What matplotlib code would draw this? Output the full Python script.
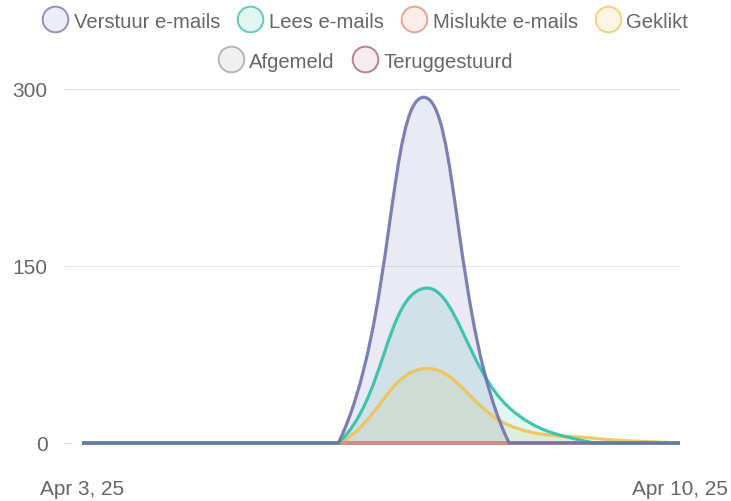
import matplotlib
matplotlib.use("Agg")
import matplotlib.pyplot as plt
import numpy as np
from matplotlib.path import Path
from matplotlib.patches import PathPatch
from matplotlib.lines import Line2D

plt.rcParams['font.family'] = ['Liberation Sans', 'DejaVu Sans']

dates = ["Apr 3, 25", "Apr 4, 25", "Apr 5, 25", "Apr 6, 25", "Apr 7, 25", "Apr 8, 25", "Apr 9, 25", "Apr 10, 25"]
series_names = ["Verstuur e-mails", "Lees e-mails", "Mislukte e-mails", "Geklikt", "Afgemeld", "Teruggestuurd"]
verstuur = [0, 0, 0, 0, 293, 0, 0, 0]
lees = [0, 0, 0, 0, 131, 30, 0, 0]
mislukte = [0, 0, 0, 0, 0, 0, 0, 0]
geklikt = [0, 0, 0, 0, 63, 15, 4, 0]
afgemeld = [0, 0, 0, 0, 0, 0, 0, 0]
teruggestuurd = [0, 0, 0, 0, 0, 0, 0, 0]
xtick_labels = ["Apr 3, 25", "Apr 10, 25"]
yticks = [0, 150, 300]

line_colors = ["#6a70ab", "#2bbfa4", "#e08a78", "#f3c150", "#a0a0a0", "#a05c72"]
fill_colors = ["#e6e8f4", "#d8f4ef", "#fde9e4", "#fdf3dc", "#ececec", "#f3e6e9"]
all_series = [verstuur, lees, mislukte, geklikt, afgemeld, teruggestuurd]

W, H = 731, 502
fig = plt.figure(figsize=(W / 100, H / 100), dpi=100)
L, R, T, B = 72, 680, 90, 444
ax = fig.add_axes([L / W, 1 - B / H, (R - L) / W, (B - T) / H])
x = np.arange(len(dates))
ax.set_xlim(-10 / 85.43, len(dates) - 1)
ax.set_ylim(0, 300)

for s in ax.spines.values():
    s.set_visible(False)
ax.set_yticks(yticks)
ax.set_yticklabels([str(v) for v in yticks])
ax.tick_params(axis='y', length=6.5, width=0.8, color='#e0e0e0', pad=11,
               labelsize=15, labelcolor='#666666')
ax.grid(axis='y', color='#e6e6e6', linewidth=0.8)
ax.set_axisbelow(True)
ax.set_xticks([0, len(dates) - 1])
ax.set_xticklabels(xtick_labels)
ax.tick_params(axis='x', length=0, pad=26, labelsize=15, labelcolor='#666666')

fig.canvas.draw()
tr = ax.transData
inv = tr.inverted()
bbox = ax.bbox


def spline_path(ys, tension=0.4):
    pts = tr.transform(np.column_stack([x, ys]).astype(float))
    n = len(pts)
    cprev = np.zeros_like(pts)
    cnext = np.zeros_like(pts)
    for i in range(n):
        prev = pts[i - 1] if i > 0 else pts[i]
        cur = pts[i]
        nxt = pts[i + 1] if i < n - 1 else pts[i]
        d01 = np.hypot(*(cur - prev))
        d12 = np.hypot(*(nxt - cur))
        tot = d01 + d12
        s01 = d01 / tot if tot > 0 else 0
        s12 = d12 / tot if tot > 0 else 0
        cprev[i] = cur - tension * s01 * (nxt - prev)
        cnext[i] = cur + tension * s12 * (nxt - prev)
    for arr in (cprev, cnext):
        arr[:, 0] = np.clip(arr[:, 0], bbox.x0, bbox.x1)
        arr[:, 1] = np.clip(arr[:, 1], bbox.y0, bbox.y1)
    verts = [pts[0]]
    codes = [Path.MOVETO]
    for i in range(n - 1):
        verts += [cnext[i], cprev[i + 1], pts[i + 1]]
        codes += [Path.CURVE4] * 3
    verts = inv.transform(np.array(verts))
    return verts, codes


for k in reversed(range(len(all_series))):
    ys = all_series[k]
    verts, codes = spline_path(ys)
    fverts = np.vstack([verts, [[x[-1], 0], [x[0], 0], [x[0], 0]]])
    fcodes = codes + [Path.LINETO, Path.LINETO, Path.CLOSEPOLY]
    ax.add_patch(PathPatch(Path(fverts, fcodes), facecolor=line_colors[k], alpha=0.14,
                           edgecolor='none', zorder=2 + (len(all_series) - k) * 0.1))
    ax.add_patch(PathPatch(Path(verts, codes), facecolor='none', edgecolor=line_colors[k],
                           linewidth=2.3, alpha=0.88, clip_on=False, capstyle='butt',
                           zorder=3 + (len(all_series) - k) * 0.1))


def handle(k):
    return Line2D([], [], marker='o', linestyle='', markersize=18.5,
                  markerfacecolor=fill_colors[k], markeredgecolor=line_colors[k],
                  markeredgewidth=1.4, alpha=0.75)


leg_kw = dict(frameon=False, fontsize=14.6, labelcolor='#666666', handlelength=1.25,
              handletextpad=0.3, columnspacing=0.85, borderpad=0, borderaxespad=0)
leg1 = fig.legend([handle(k) for k in range(4)], series_names[:4], loc='center',
                  bbox_to_anchor=(0.5, 1 - 22 / H), ncol=4, **leg_kw)
leg2 = fig.legend([handle(k) for k in range(4, 6)], series_names[4:], loc='center',
                  bbox_to_anchor=(0.5, 1 - 62 / H), ncol=2, **leg_kw)

fig.savefig("out.png", dpi=100, facecolor='white')
